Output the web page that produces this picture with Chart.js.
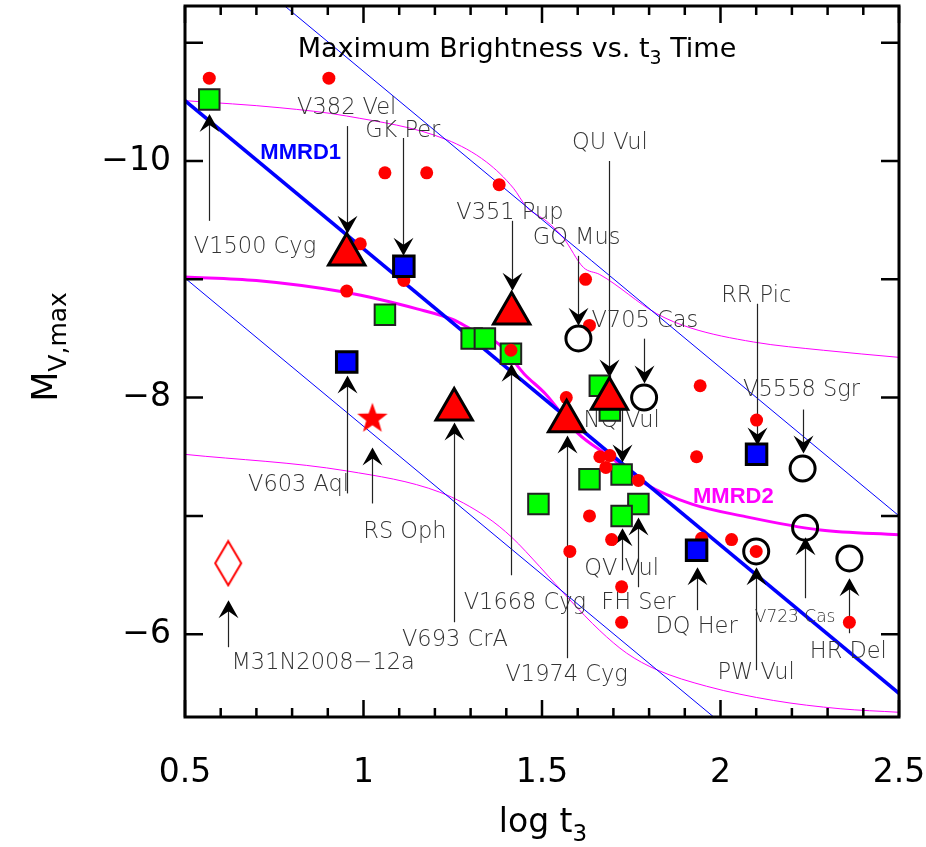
<!DOCTYPE html>
<html>
<head>
<meta charset="utf-8">
<script src="https://cdn.jsdelivr.net/npm/chart.js@4.4.1/dist/chart.umd.min.js"></script>
<style>
    html, body { margin: 0; padding: 0; background: #fff; }
</style>
</head>
<body>
<canvas id="myChart" width="926" height="847"></canvas>
<script>
// red dots
const dotX = [0.568, 0.903, 1.060, 1.177, 1.380, 0.991, 0.953, 1.113, 1.413, 1.622, 1.633, 1.943, 1.568, 2.101, 1.933, 1.662, 1.690, 1.679, 1.770, 1.633, 1.695, 1.578, 1.947, 2.031, 2.100, 1.723, 1.723, 2.361];
const dotY = [-10.70, -10.70, -9.90, -9.90, -9.80, -9.30, -8.90, -8.99, -8.40, -9.00, -8.61, -8.10, -8.00, -7.81, -7.50, -7.50, -7.51, -7.41, -7.30, -7.00, -6.80, -6.70, -6.81, -6.80, -6.70, -6.40, -6.10, -6.10];

// green squares
const greenX = [0.568, 1.060, 1.303, 1.340, 1.413, 1.662, 1.690, 1.633, 1.723, 1.770, 1.723, 1.490];
const greenY = [-10.52, -8.70, -8.50, -8.50, -8.37, -8.10, -7.89, -7.31, -7.35, -7.10, -7.00, -7.10];

// blue squares
const blueX = [1.113, 0.953, 2.101, 1.933];
const blueY = [-9.11, -8.30, -7.52, -6.71];

// red triangles
const triX = [0.953, 1.254, 1.415, 1.569, 1.689];
const triY = [-9.21, -7.90, -8.71, -7.80, -7.99];

// open circles
const ringX = [1.602, 1.786, 2.230, 2.237, 2.100, 2.361];
const ringY = [-8.50, -8.00, -7.40, -6.90, -6.70, -6.64];

// RS Oph star, M31N2008-12a diamond
const starX = [1.025];
const starY = [-7.83];
const diamondX = [0.621];
const diamondY = [-6.60];

// MMRD1 and its +-1.5 mag band
const mmrd1X = [0.5, 2.5];
const mmrd1Y = [-10.51, -5.50];
const band1UpY = [-12.01, -7.00];
const band1LoY = [-9.01, -4.00];

// MMRD2 and its band
const mmrd2X = [0.5, 0.7, 0.95, 1.15, 1.25, 1.30, 1.38, 1.45, 1.51, 1.60, 1.69, 1.79, 1.92, 2.06, 2.28, 2.5];
const mmrd2Y = [-9.02, -8.99, -8.89, -8.75, -8.66, -8.58, -8.45, -8.20, -8.03, -7.70, -7.50, -7.27, -7.10, -7.00, -6.88, -6.84];
const band2UpX = [0.5, 0.766, 0.953, 1.233, 1.345, 1.420, 1.457, 1.513, 1.560, 1.616, 1.662, 1.821, 1.915, 2.092, 2.288, 2.5];
const band2UpY = [-10.51, -10.45, -10.38, -10.18, -9.99, -9.77, -9.61, -9.49, -9.35, -9.10, -9.04, -8.71, -8.59, -8.47, -8.40, -8.34];
const band2LoX = [0.5, 0.953, 1.214, 1.345, 1.415, 1.494, 1.578, 1.662, 1.737, 1.821, 1.961, 2.148, 2.335, 2.5];
const band2LoY = [-7.52, -7.38, -7.20, -6.99, -6.82, -6.57, -6.29, -6.03, -5.84, -5.70, -5.56, -5.44, -5.37, -5.34];

// axis ticks
const xTickLabels = [0.5, 1, 1.5, 2, 2.5];
const yTickLabels = [-10, -8, -6];

// nova names with their arrows
const noteNames = ['V382 Vel', 'GK Per', 'V1500 Cyg', 'V351 Pup', 'GQ Mus', 'QU Vul', 'V705 Cas', 'RR Pic', 'V5558 Sgr', 'NQ Vul', 'V603 Aql', 'RS Oph', 'V693 CrA', 'V1668 Cyg', 'V1974 Cyg', 'QV Vul', 'FH Ser', 'DQ Her', 'PW Vul', 'V723 Cas', 'HR Del', 'M31N2008\u221212a'];
const noteX = [0.953, 1.110, 0.696, 1.410, 1.597, 1.690, 1.788, 2.100, 2.227, 1.723, 0.818, 1.116, 1.256, 1.452, 1.569, 1.723, 1.770, 1.933, 2.100, 2.209, 2.358, 0.887];
const noteY = [-10.45, -10.25, -9.27, -9.56, -9.35, -10.15, -8.65, -8.86, -8.06, -7.80, -7.26, -6.86, -5.95, -6.26, -5.65, -6.55, -6.26, -6.06, -5.67, -6.14, -5.85, -5.755];
const arrowX = [0.953, 1.110, 0.568, 1.415, 1.602, 1.689, 1.786, 2.101, 2.230, 1.723, 0.953, 1.025, 1.254, 1.413, 1.569, 1.723, 1.770, 1.933, 2.100, 2.237, 2.361, 0.621];
const arrowFrom = [-10.295, -10.194, -9.494, -9.494, -9.198, -10.0, -8.498, -8.793, -7.899, -7.907, -7.19, -7.105, -6.101, -6.498, -5.797, -6.54, -6.397, -6.203, -5.696, -6.304, -6.008, -5.89];
const arrowTo = [-9.384, -9.198, -10.397, -8.903, -8.608, -8.169, -8.118, -7.595, -7.527, -7.451, -8.186, -7.578, -7.789, -8.287, -7.679, -6.895, -6.987, -6.565, -6.565, -6.819, -6.473, -6.287];

const pts = (xs, ys) => xs.map((x, i) => ({ x: x, y: ys[i] }));

function makeStar() {
    const c = document.createElement('canvas');
    c.width = 34; c.height = 34;
    const g = c.getContext('2d');
    g.beginPath();
    for (let i = 0; i < 10; i++) {
        const r = i % 2 === 0 ? 16 : 6.5;
        const a = -Math.PI / 2 + i * Math.PI / 5;
        g.lineTo(17 + r * Math.cos(a), 18 + r * Math.sin(a));
    }
    g.closePath();
    g.fillStyle = '#ff0000';
    g.fill();
    return c;
}

function makeDiamond() {
    const c = document.createElement('canvas');
    c.width = 30; c.height = 48;
    const g = c.getContext('2d');
    g.beginPath();
    g.moveTo(15, 2); g.lineTo(28, 24); g.lineTo(15, 46); g.lineTo(2, 24);
    g.closePath();
    g.strokeStyle = '#ff0000';
    g.lineWidth = 2;
    g.stroke();
    return c;
}

function drawRich(ctx, parts, x, y, font, subFont, drop) {
    let total = 0;
    parts.forEach(p => { ctx.font = p[1] ? subFont : font; total += ctx.measureText(p[0]).width; });
    let cx = x - total / 2;
    ctx.textAlign = 'left';
    parts.forEach(p => {
        ctx.font = p[1] ? subFont : font;
        ctx.fillText(p[0], cx, p[1] ? y + drop : y);
        cx += ctx.measureText(p[0]).width;
    });
}

const LABEL_FONT = '"DejaVu Sans"';

const decor = {
    id: 'decor',
    afterDatasetDraw(chart, args) {
        if (args.index !== 0) return;
        const { ctx, scales: { x, y } } = chart;
        ctx.save();
        ctx.fillStyle = '#333';
        ctx.strokeStyle = '#222';
        ctx.textBaseline = 'middle';
        ctx.textAlign = 'center';
        noteNames.forEach((name, i) => {
            ctx.font = name === 'V723 Cas' ? '200 17px ' + LABEL_FONT : '200 22.5px ' + LABEL_FONT;
            ctx.fillText(name, x.getPixelForValue(noteX[i]), y.getPixelForValue(noteY[i]));
            const ax = Math.round(x.getPixelForValue(arrowX[i])) + 0.5;
            const y0 = y.getPixelForValue(arrowFrom[i]);
            const y1 = y.getPixelForValue(arrowTo[i]);
            const d = y1 > y0 ? 1 : -1;
            ctx.lineWidth = 1.2;
            ctx.beginPath();
            ctx.moveTo(ax, y0);
            ctx.lineTo(ax, y1 - d * 6);
            ctx.stroke();
            ctx.fillStyle = '#000';
            ctx.beginPath();
            ctx.moveTo(ax, y1);
            ctx.lineTo(ax - 10, y1 - d * 18);
            ctx.lineTo(ax, y1 - d * 11);
            ctx.lineTo(ax + 10, y1 - d * 18);
            ctx.closePath();
            ctx.fill();
            ctx.fillStyle = '#333';
        });
        ctx.font = 'bold 22px "Liberation Sans"';
        ctx.fillStyle = '#0000ff';
        ctx.fillText('MMRD1', x.getPixelForValue(0.824), y.getPixelForValue(-10.07));
        ctx.fillStyle = '#ff00ff';
        ctx.fillText('MMRD2', x.getPixelForValue(2.036), y.getPixelForValue(-7.16));
        ctx.restore();
    },
    afterDraw(chart) {
        const { ctx, chartArea: a, scales: { x, y } } = chart;
        ctx.save();
        ctx.strokeStyle = '#000';
        ctx.lineWidth = 2.5;
        x.ticks.forEach(t => {
            const px = x.getPixelForValue(t.value);
            const len = t.label ? 17 : 9;
            ctx.beginPath();
            ctx.moveTo(px, a.bottom); ctx.lineTo(px, a.bottom - len);
            ctx.moveTo(px, a.top); ctx.lineTo(px, a.top + len);
            ctx.stroke();
        });
        y.ticks.forEach(t => {
            const py = y.getPixelForValue(t.value);
            ctx.beginPath();
            ctx.moveTo(a.left, py); ctx.lineTo(a.left + 18, py);
            ctx.moveTo(a.right, py); ctx.lineTo(a.right - 18, py);
            ctx.stroke();
        });
        ctx.lineWidth = 3;
        ctx.strokeRect(a.left, a.top, a.right - a.left, a.bottom - a.top);

        // tick labels
        ctx.fillStyle = '#000';
        ctx.font = '33px ' + LABEL_FONT;
        ctx.textBaseline = 'middle';
        ctx.textAlign = 'center';
        x.ticks.forEach(t => {
            if (t.label) ctx.fillText(t.label, x.getPixelForValue(t.value), 773);
        });
        ctx.textAlign = 'right';
        y.ticks.forEach(t => {
            if (t.label) ctx.fillText(t.label, a.left - 14, y.getPixelForValue(t.value));
        });

        ctx.textBaseline = 'alphabetic';
        drawRich(ctx, [['Maximum Brightness vs. t', false], ['3', true], [' Time', false]],
            517, 57, '27px ' + LABEL_FONT, '19px ' + LABEL_FONT, 7);
        drawRich(ctx, [['log t', false], ['3', true]], 543, 832, '33px ' + LABEL_FONT, '23px ' + LABEL_FONT, 9);
        ctx.translate(57, 347);
        ctx.rotate(-Math.PI / 2);
        drawRich(ctx, [['M', false], ['V,max', true]], 0, 0, '35px ' + LABEL_FONT, '25px ' + LABEL_FONT, 9);
        ctx.restore();
    }
};

const ctx = document.getElementById('myChart').getContext('2d');
const myChart = new Chart(ctx, {
    type: 'scatter',
    data: {
        datasets: [
            { data: pts(mmrd1X, mmrd1Y), showLine: true, borderColor: '#0000ff', borderWidth: 3.5, pointRadius: 0, order: 10 },
            { data: pts(mmrd1X, band1UpY), showLine: true, borderColor: '#0000ff', borderWidth: 1, pointRadius: 0, order: 11 },
            { data: pts(mmrd1X, band1LoY), showLine: true, borderColor: '#0000ff', borderWidth: 1, pointRadius: 0, order: 12 },
            { data: pts(mmrd2X, mmrd2Y), showLine: true, borderColor: '#ff00ff', borderWidth: 3, pointRadius: 0, cubicInterpolationMode: 'monotone', order: 13 },
            { data: pts(band2UpX, band2UpY), showLine: true, borderColor: '#ff00ff', borderWidth: 1, pointRadius: 0, cubicInterpolationMode: 'monotone', order: 14 },
            { data: pts(band2LoX, band2LoY), showLine: true, borderColor: '#ff00ff', borderWidth: 1, pointRadius: 0, cubicInterpolationMode: 'monotone', order: 15 },
            { data: pts(greenX, greenY), pointStyle: 'rect', pointRadius: 14.5, backgroundColor: '#00ff00', borderColor: '#222', borderWidth: 2, order: 6 },
            { data: pts(dotX, dotY), pointStyle: 'circle', pointRadius: 6.5, backgroundColor: '#ff0000', borderWidth: 0, order: 5 },
            { data: pts(blueX, blueY), pointStyle: 'rect', pointRadius: 14.5, backgroundColor: '#0000ff', borderColor: '#000', borderWidth: 3, order: 3 },
            { data: pts(triX, triY), pointStyle: 'triangle', pointRadius: 21, backgroundColor: '#ff0000', borderColor: '#000', borderWidth: 3, order: 2 },
            { data: pts(ringX, ringY), pointStyle: 'circle', pointRadius: 12.5, backgroundColor: 'rgba(0,0,0,0)', borderColor: '#000', borderWidth: 3, order: 1 },
            { data: pts(starX, starY), pointStyle: makeStar(), order: 1 },
            { data: pts(diamondX, diamondY), pointStyle: makeDiamond(), order: 1 }
        ]
    },
    options: {
        responsive: false,
        animation: false,
        layout: { autoPadding: false, padding: { top: 6, right: 27, left: 0, bottom: 0 } },
        plugins: { legend: { display: false }, tooltip: { enabled: false } },
        scales: {
            x: {
                type: 'linear',
                min: 0.5,
                max: 2.5,
                grid: { display: false },
                border: { display: false },
                afterFit: s => { s.height = 130; s.paddingLeft = 0; s.paddingRight = 0; },
                ticks: {
                    display: false,
                    stepSize: 0.1,
                    autoSkip: false,
                    callback: v => {
                        const hit = xTickLabels.find(t => Math.abs(t - v) < 1e-6);
                        return hit === undefined ? '' : String(hit);
                    }
                }
            },
            y: {
                type: 'linear',
                reverse: true,
                min: -11.31,
                max: -5.30,
                grid: { display: false },
                border: { display: false },
                afterFit: s => { s.width = 185; s.paddingTop = 0; s.paddingBottom = 0; },
                ticks: {
                    display: false,
                    stepSize: 1,
                    includeBounds: false,
                    autoSkip: false,
                    callback: v => {
                        const hit = yTickLabels.find(t => Math.abs(t - v) < 1e-6);
                        return hit === undefined ? '' : '\u2212' + String(-hit);
                    }
                }
            }
        }
    },
    plugins: [decor]
});
</script>
</body>
</html>
